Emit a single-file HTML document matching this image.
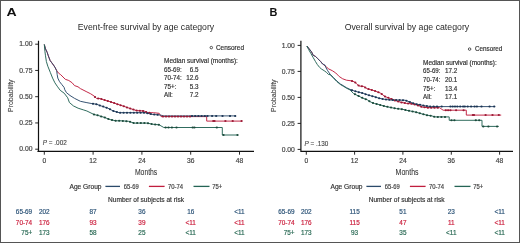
<!DOCTYPE html>
<html><head><meta charset="utf-8"><style>
html,body{margin:0;padding:0;background:#fff;}
svg{display:block;will-change:transform;}
text{font-family:"Liberation Sans",sans-serif;}
</style></head><body>
<svg width="520" height="243" viewBox="0 0 520 243">
<rect x="0" y="0" width="520" height="243" fill="#fff"/>
<text x="6.5" y="16.1" font-size="11.8" font-weight="bold" fill="#111" textLength="10.2" lengthAdjust="spacingAndGlyphs">A</text>
<text x="77.8" y="29.5" font-size="8.9" fill="#2a2a2a" textLength="136.4" lengthAdjust="spacingAndGlyphs">Event-free survival by age category</text>
<path d="M38.5,40.8V151.9M37.4,151.3H254" stroke="#111" stroke-width="1.2" fill="none"/>
<path d="M35.2,44.20H38.5M35.2,70.45H38.5M35.2,96.70H38.5M35.2,122.95H38.5M35.2,149.20H38.5M44.3,151.3V154.70000000000002M93.1,151.3V154.70000000000002M141.9,151.3V154.70000000000002M190.7,151.3V154.70000000000002M239.5,151.3V154.70000000000002" stroke="#111" stroke-width="0.9" fill="none"/>
<text x="32.5" y="46.4" font-size="6.8" fill="#444" stroke="#444" stroke-width="0.18" text-anchor="end" textLength="13.2" lengthAdjust="spacingAndGlyphs">1.00</text>
<text x="32.5" y="72.65" font-size="6.8" fill="#444" stroke="#444" stroke-width="0.18" text-anchor="end" textLength="13.2" lengthAdjust="spacingAndGlyphs">0.75</text>
<text x="32.5" y="98.9" font-size="6.8" fill="#444" stroke="#444" stroke-width="0.18" text-anchor="end" textLength="13.2" lengthAdjust="spacingAndGlyphs">0.50</text>
<text x="32.5" y="125.15" font-size="6.8" fill="#444" stroke="#444" stroke-width="0.18" text-anchor="end" textLength="13.2" lengthAdjust="spacingAndGlyphs">0.25</text>
<text x="32.5" y="151.4" font-size="6.8" fill="#444" stroke="#444" stroke-width="0.18" text-anchor="end" textLength="13.2" lengthAdjust="spacingAndGlyphs">0.00</text>
<text x="44.3" y="163.1" font-size="6.7" fill="#444" stroke="#444" stroke-width="0.18" text-anchor="middle">0</text>
<text x="93.1" y="163.1" font-size="6.7" fill="#444" stroke="#444" stroke-width="0.18" text-anchor="middle">12</text>
<text x="141.9" y="163.1" font-size="6.7" fill="#444" stroke="#444" stroke-width="0.18" text-anchor="middle">24</text>
<text x="190.7" y="163.1" font-size="6.7" fill="#444" stroke="#444" stroke-width="0.18" text-anchor="middle">36</text>
<text x="239.5" y="163.1" font-size="6.7" fill="#444" stroke="#444" stroke-width="0.18" text-anchor="middle">48</text>
<text x="134.9" y="174.9" font-size="8.2" fill="#333" stroke="#333" stroke-width="0.06" textLength="22.4" lengthAdjust="spacingAndGlyphs">Months</text>
<text transform="translate(13.3,95.7) rotate(-90)" x="0" y="0" font-size="7.4" fill="#444" stroke="#444" stroke-width="0.12" text-anchor="middle" textLength="32.6" lengthAdjust="spacingAndGlyphs">Probability</text>
<text x="42.8" y="144.8" font-size="6.6" fill="#444" stroke="#444" stroke-width="0.12" textLength="24.0" lengthAdjust="spacingAndGlyphs"><tspan font-style="italic">P</tspan> = .002</text>
<circle cx="211.3" cy="47.6" r="1.25" fill="none" stroke="#333" stroke-width="0.85"/>
<text x="215.9" y="50.0" font-size="6.4" fill="#333" stroke="#333" stroke-width="0.18" textLength="28.1" lengthAdjust="spacingAndGlyphs">Censored</text>
<text x="164.1" y="62.9" font-size="6.3" fill="#333" stroke="#333" stroke-width="0.18" textLength="73.8" lengthAdjust="spacingAndGlyphs">Median survival (months):</text>
<text x="164.1" y="71.7" font-size="6.3" fill="#333" stroke="#333" stroke-width="0.18" textLength="17.7" lengthAdjust="spacingAndGlyphs">65-69:</text>
<text x="198.4" y="71.7" font-size="6.3" fill="#333" stroke="#333" stroke-width="0.18" text-anchor="end">6.5</text>
<text x="164.1" y="80.1" font-size="6.3" fill="#333" stroke="#333" stroke-width="0.18" textLength="17.7" lengthAdjust="spacingAndGlyphs">70-74:</text>
<text x="198.4" y="80.1" font-size="6.3" fill="#333" stroke="#333" stroke-width="0.18" text-anchor="end">12.6</text>
<text x="164.1" y="88.8" font-size="6.3" fill="#333" stroke="#333" stroke-width="0.18">75+:</text>
<text x="198.4" y="88.8" font-size="6.3" fill="#333" stroke="#333" stroke-width="0.18" text-anchor="end">5.3</text>
<text x="164.1" y="96.9" font-size="6.3" fill="#333" stroke="#333" stroke-width="0.18">All:</text>
<text x="198.4" y="96.9" font-size="6.3" fill="#333" stroke="#333" stroke-width="0.18" text-anchor="end">7.2</text>
<polyline points="44.3,44.5 45.5,48.9 47.2,52.4 48.3,55.8 50.1,60.5 51.8,62.8 53.5,65.1 54.9,67.2 56.7,70.7 58.4,73.0 60.7,74.7 63.0,77.0 65.3,79.3 68.8,80.5 72.2,82.8 74.5,85.6 78.0,86.8 80.4,88.6 86.1,91.5 90.7,93.8 94.2,96.1 96.5,98.4 100.0,98.6 104.2,100.0 110.0,101.7 116.9,104.0 123.8,106.3 130.7,108.7 136.5,110.6 144.1,111.0 147.5,112.7 153.3,112.7 159.2,113.3 161.0,116.6 206.7,116.6 206.7,121.1 242.1,121.1" fill="none" stroke="#c01e3e" stroke-width="0.95" stroke-linejoin="round"/>
<polyline points="44.3,44.5 45.5,48.9 47.2,52.4 48.3,55.8 50.1,60.5 51.8,62.8 53.5,65.1 54.9,67.2 56.7,70.7 57.2,74.7 57.8,78.1 59.5,81.6 61.8,84.5 64.1,87.4 64.8,89.8 66.5,92.7 70.0,95.5 74.6,98.4 80.4,101.3 86.1,102.5 91.9,103.6 96.5,104.2 100.8,105.8 107.7,108.1 113.4,111.0 119.2,112.7 145.2,112.7 152.1,114.4 160.2,115.0 163.7,115.9 235.8,115.9" fill="none" stroke="#2b4a6a" stroke-width="0.95" stroke-linejoin="round"/>
<polyline points="44.3,44.5 44.9,51.2 45.5,55.8 46.4,61.6 47.8,66.2 50.3,72.4 52.6,78.1 54.9,82.8 57.2,86.2 60.2,90.3 64.2,93.2 67.7,97.8 69.4,102.5 73.4,105.9 78.1,108.2 83.8,110.0 86.9,111.0 93.8,114.4 98.5,115.6 104.2,117.3 110.0,119.6 115.8,120.8 121.5,120.8 128.4,121.3 134.2,123.1 147.5,123.1 152.1,124.2 159.1,124.8 163.8,127.5 222.3,127.5 222.3,135.0 238.1,135.0" fill="none" stroke="#256455" stroke-width="0.95" stroke-linejoin="round"/>
<ellipse cx="95" cy="96.9" rx="1.15" ry="1.0" fill="#9a1a35"/><ellipse cx="98.2" cy="98.5" rx="1.15" ry="1.0" fill="#9a1a35"/><ellipse cx="101.4" cy="99.07" rx="1.15" ry="1.0" fill="#9a1a35"/><ellipse cx="104.6" cy="100.12" rx="1.15" ry="1.0" fill="#9a1a35"/><ellipse cx="107.8" cy="101.06" rx="1.15" ry="1.0" fill="#9a1a35"/><ellipse cx="111.0" cy="102.03" rx="1.15" ry="1.0" fill="#9a1a35"/><ellipse cx="114.2" cy="103.1" rx="1.15" ry="1.0" fill="#9a1a35"/><ellipse cx="117.4" cy="104.17" rx="1.15" ry="1.0" fill="#9a1a35"/><ellipse cx="120.6" cy="105.23" rx="1.15" ry="1.0" fill="#9a1a35"/><ellipse cx="123.8" cy="106.3" rx="1.15" ry="1.0" fill="#9a1a35"/><ellipse cx="127.0" cy="107.41" rx="1.15" ry="1.0" fill="#9a1a35"/><ellipse cx="130.2" cy="108.53" rx="1.15" ry="1.0" fill="#9a1a35"/><ellipse cx="133.4" cy="109.58" rx="1.15" ry="1.0" fill="#9a1a35"/><ellipse cx="136.6" cy="110.61" rx="1.15" ry="1.0" fill="#9a1a35"/><ellipse cx="139.8" cy="110.77" rx="1.15" ry="1.0" fill="#9a1a35"/><ellipse cx="143.0" cy="110.94" rx="1.15" ry="1.0" fill="#9a1a35"/><ellipse cx="146.2" cy="112.05" rx="1.15" ry="1.0" fill="#9a1a35"/><ellipse cx="149.4" cy="112.7" rx="1.15" ry="1.0" fill="#9a1a35"/><ellipse cx="163" cy="116.6" rx="1.15" ry="1.0" fill="#9a1a35"/><ellipse cx="166.0" cy="116.6" rx="1.15" ry="1.0" fill="#9a1a35"/><ellipse cx="169.0" cy="116.6" rx="1.15" ry="1.0" fill="#9a1a35"/><ellipse cx="172.0" cy="116.6" rx="1.15" ry="1.0" fill="#9a1a35"/><ellipse cx="175.0" cy="116.6" rx="1.15" ry="1.0" fill="#9a1a35"/><ellipse cx="178.0" cy="116.6" rx="1.15" ry="1.0" fill="#9a1a35"/><ellipse cx="181.0" cy="116.6" rx="1.15" ry="1.0" fill="#9a1a35"/><ellipse cx="184.0" cy="116.6" rx="1.15" ry="1.0" fill="#9a1a35"/><ellipse cx="187.0" cy="116.6" rx="1.15" ry="1.0" fill="#9a1a35"/><ellipse cx="190.0" cy="116.6" rx="1.15" ry="1.0" fill="#9a1a35"/><ellipse cx="213.3" cy="121.1" rx="1.15" ry="1.0" fill="#9a1a35"/><ellipse cx="214.5" cy="121.1" rx="1.15" ry="1.0" fill="#9a1a35"/><ellipse cx="225.4" cy="121.1" rx="1.15" ry="1.0" fill="#9a1a35"/><ellipse cx="232.7" cy="121.1" rx="1.15" ry="1.0" fill="#9a1a35"/><ellipse cx="241.6" cy="121.1" rx="1.15" ry="1.0" fill="#9a1a35"/>
<ellipse cx="93" cy="103.74" rx="1.15" ry="1.0" fill="#1c3554"/><ellipse cx="96.4" cy="104.19" rx="1.15" ry="1.0" fill="#1c3554"/><ellipse cx="99.8" cy="105.43" rx="1.15" ry="1.0" fill="#1c3554"/><ellipse cx="103.2" cy="106.6" rx="1.15" ry="1.0" fill="#1c3554"/><ellipse cx="106.6" cy="107.73" rx="1.15" ry="1.0" fill="#1c3554"/><ellipse cx="110.0" cy="109.27" rx="1.15" ry="1.0" fill="#1c3554"/><ellipse cx="113.4" cy="111.0" rx="1.15" ry="1.0" fill="#1c3554"/><ellipse cx="116.8" cy="112.0" rx="1.15" ry="1.0" fill="#1c3554"/><ellipse cx="120.2" cy="112.7" rx="1.15" ry="1.0" fill="#1c3554"/><ellipse cx="123.6" cy="112.7" rx="1.15" ry="1.0" fill="#1c3554"/><ellipse cx="127.0" cy="112.7" rx="1.15" ry="1.0" fill="#1c3554"/><ellipse cx="130.4" cy="112.7" rx="1.15" ry="1.0" fill="#1c3554"/><ellipse cx="133.8" cy="112.7" rx="1.15" ry="1.0" fill="#1c3554"/><ellipse cx="137.2" cy="112.7" rx="1.15" ry="1.0" fill="#1c3554"/><ellipse cx="140.6" cy="112.7" rx="1.15" ry="1.0" fill="#1c3554"/><ellipse cx="144.0" cy="112.7" rx="1.15" ry="1.0" fill="#1c3554"/><ellipse cx="147.4" cy="113.24" rx="1.15" ry="1.0" fill="#1c3554"/><ellipse cx="150.8" cy="114.08" rx="1.15" ry="1.0" fill="#1c3554"/><ellipse cx="154.2" cy="114.56" rx="1.15" ry="1.0" fill="#1c3554"/><ellipse cx="157.6" cy="114.81" rx="1.15" ry="1.0" fill="#1c3554"/><ellipse cx="192" cy="115.9" rx="1.15" ry="1.0" fill="#1c3554"/><ellipse cx="195.2" cy="115.9" rx="1.15" ry="1.0" fill="#1c3554"/><ellipse cx="198.4" cy="115.9" rx="1.15" ry="1.0" fill="#1c3554"/><ellipse cx="201.6" cy="115.9" rx="1.15" ry="1.0" fill="#1c3554"/><ellipse cx="204.8" cy="115.9" rx="1.15" ry="1.0" fill="#1c3554"/><ellipse cx="207.5" cy="115.9" rx="1.15" ry="1.0" fill="#1c3554"/><ellipse cx="212.1" cy="115.9" rx="1.15" ry="1.0" fill="#1c3554"/><ellipse cx="216.2" cy="115.9" rx="1.15" ry="1.0" fill="#1c3554"/><ellipse cx="222.5" cy="115.9" rx="1.15" ry="1.0" fill="#1c3554"/><ellipse cx="230" cy="115.9" rx="1.15" ry="1.0" fill="#1c3554"/><ellipse cx="235.2" cy="115.9" rx="1.15" ry="1.0" fill="#1c3554"/>
<ellipse cx="94" cy="114.45" rx="1.15" ry="1.0" fill="#1b4a3b"/><ellipse cx="97.6" cy="115.37" rx="1.15" ry="1.0" fill="#1b4a3b"/><ellipse cx="101.2" cy="116.41" rx="1.15" ry="1.0" fill="#1b4a3b"/><ellipse cx="104.8" cy="117.54" rx="1.15" ry="1.0" fill="#1b4a3b"/><ellipse cx="108.4" cy="118.97" rx="1.15" ry="1.0" fill="#1b4a3b"/><ellipse cx="112.0" cy="120.01" rx="1.15" ry="1.0" fill="#1b4a3b"/><ellipse cx="115.6" cy="120.76" rx="1.15" ry="1.0" fill="#1b4a3b"/><ellipse cx="119.2" cy="120.8" rx="1.15" ry="1.0" fill="#1b4a3b"/><ellipse cx="122.8" cy="120.89" rx="1.15" ry="1.0" fill="#1b4a3b"/><ellipse cx="126.4" cy="121.16" rx="1.15" ry="1.0" fill="#1b4a3b"/><ellipse cx="130.0" cy="121.8" rx="1.15" ry="1.0" fill="#1b4a3b"/><ellipse cx="133.6" cy="122.91" rx="1.15" ry="1.0" fill="#1b4a3b"/><ellipse cx="137.2" cy="123.1" rx="1.15" ry="1.0" fill="#1b4a3b"/><ellipse cx="140.8" cy="123.1" rx="1.15" ry="1.0" fill="#1b4a3b"/><ellipse cx="144.4" cy="123.1" rx="1.15" ry="1.0" fill="#1b4a3b"/><ellipse cx="148.0" cy="123.22" rx="1.15" ry="1.0" fill="#1b4a3b"/><ellipse cx="151.6" cy="124.08" rx="1.15" ry="1.0" fill="#1b4a3b"/><ellipse cx="155.2" cy="124.47" rx="1.15" ry="1.0" fill="#1b4a3b"/><ellipse cx="158.8" cy="124.77" rx="1.15" ry="1.0" fill="#1b4a3b"/><ellipse cx="165.6" cy="127.5" rx="1.15" ry="1.0" fill="#1b4a3b"/><ellipse cx="168.5" cy="127.5" rx="1.15" ry="1.0" fill="#1b4a3b"/><ellipse cx="171.9" cy="127.5" rx="1.15" ry="1.0" fill="#1b4a3b"/><ellipse cx="176.5" cy="127.5" rx="1.15" ry="1.0" fill="#1b4a3b"/><ellipse cx="192.7" cy="127.5" rx="1.15" ry="1.0" fill="#1b4a3b"/><ellipse cx="194.4" cy="127.5" rx="1.15" ry="1.0" fill="#1b4a3b"/><ellipse cx="216.8" cy="127.5" rx="1.15" ry="1.0" fill="#1b4a3b"/><ellipse cx="223.5" cy="135.0" rx="1.15" ry="1.0" fill="#1b4a3b"/><ellipse cx="237.5" cy="135.0" rx="1.15" ry="1.0" fill="#1b4a3b"/>
<text x="69.5" y="188.6" font-size="6.6" fill="#333" stroke="#333" stroke-width="0.18" textLength="32.0" lengthAdjust="spacingAndGlyphs">Age Group</text>
<line x1="105.4" y1="186.4" x2="120.0" y2="186.4" stroke="#2b4a6a" stroke-width="1.3"/>
<text x="123.8" y="188.6" font-size="6.3" fill="#444" stroke="#444" stroke-width="0.18" textLength="15.0" lengthAdjust="spacingAndGlyphs">65-69</text>
<line x1="148.9" y1="186.4" x2="164.6" y2="186.4" stroke="#c01e3e" stroke-width="1.3"/>
<text x="168.0" y="188.6" font-size="6.3" fill="#444" stroke="#444" stroke-width="0.18" textLength="15.1" lengthAdjust="spacingAndGlyphs">70-74</text>
<line x1="193.5" y1="186.4" x2="209.5" y2="186.4" stroke="#256455" stroke-width="1.3"/>
<text x="212.3" y="188.6" font-size="6.3" fill="#444" stroke="#444" stroke-width="0.18" textLength="10.0" lengthAdjust="spacingAndGlyphs">75+</text>
<text x="108.1" y="201.6" font-size="6.6" fill="#333" stroke="#333" stroke-width="0.18" textLength="75.9" lengthAdjust="spacingAndGlyphs">Number of subjects at risk</text>
<text x="32.2" y="214.1" font-size="6.4" fill="#2d5478" stroke="#2d5478" stroke-width="0.18" text-anchor="end">65-69</text>
<text x="44.3" y="214.1" font-size="6.4" fill="#2d5478" stroke="#2d5478" stroke-width="0.18" text-anchor="middle">202</text>
<text x="93.1" y="214.1" font-size="6.4" fill="#2d5478" stroke="#2d5478" stroke-width="0.18" text-anchor="middle">87</text>
<text x="141.9" y="214.1" font-size="6.4" fill="#2d5478" stroke="#2d5478" stroke-width="0.18" text-anchor="middle">36</text>
<text x="190.7" y="214.1" font-size="6.4" fill="#2d5478" stroke="#2d5478" stroke-width="0.18" text-anchor="middle">16</text>
<text x="239.5" y="214.1" font-size="6.4" fill="#2d5478" stroke="#2d5478" stroke-width="0.18" text-anchor="middle">&lt;11</text>
<text x="32.2" y="224.7" font-size="6.4" fill="#cc1f3d" stroke="#cc1f3d" stroke-width="0.18" text-anchor="end">70-74</text>
<text x="44.3" y="224.7" font-size="6.4" fill="#cc1f3d" stroke="#cc1f3d" stroke-width="0.18" text-anchor="middle">176</text>
<text x="93.1" y="224.7" font-size="6.4" fill="#cc1f3d" stroke="#cc1f3d" stroke-width="0.18" text-anchor="middle">93</text>
<text x="141.9" y="224.7" font-size="6.4" fill="#cc1f3d" stroke="#cc1f3d" stroke-width="0.18" text-anchor="middle">39</text>
<text x="190.7" y="224.7" font-size="6.4" fill="#cc1f3d" stroke="#cc1f3d" stroke-width="0.18" text-anchor="middle">&lt;11</text>
<text x="239.5" y="224.7" font-size="6.4" fill="#cc1f3d" stroke="#cc1f3d" stroke-width="0.18" text-anchor="middle">&lt;11</text>
<text x="32.2" y="235.2" font-size="6.4" fill="#2a6a55" stroke="#2a6a55" stroke-width="0.18" text-anchor="end">75+</text>
<text x="44.3" y="235.2" font-size="6.4" fill="#2a6a55" stroke="#2a6a55" stroke-width="0.18" text-anchor="middle">173</text>
<text x="93.1" y="235.2" font-size="6.4" fill="#2a6a55" stroke="#2a6a55" stroke-width="0.18" text-anchor="middle">58</text>
<text x="141.9" y="235.2" font-size="6.4" fill="#2a6a55" stroke="#2a6a55" stroke-width="0.18" text-anchor="middle">25</text>
<text x="190.7" y="235.2" font-size="6.4" fill="#2a6a55" stroke="#2a6a55" stroke-width="0.18" text-anchor="middle">&lt;11</text>
<text x="239.5" y="235.2" font-size="6.4" fill="#2a6a55" stroke="#2a6a55" stroke-width="0.18" text-anchor="middle">&lt;11</text>
<text x="269.4" y="16.3" font-size="11.8" font-weight="bold" fill="#111" textLength="7.9" lengthAdjust="spacingAndGlyphs">B</text>
<text x="344.7" y="29.5" font-size="8.9" fill="#2a2a2a" textLength="124.5" lengthAdjust="spacingAndGlyphs">Overall survival by age category</text>
<path d="M300.9,40.8V151.9M300.29999999999995,151.3H513" stroke="#111" stroke-width="1.2" fill="none"/>
<path d="M297.59999999999997,45.40H300.9M297.59999999999997,71.40H300.9M297.59999999999997,97.40H300.9M297.59999999999997,123.40H300.9M297.59999999999997,149.40H300.9M306.3,151.3V154.70000000000002M354.6,151.3V154.70000000000002M402.9,151.3V154.70000000000002M451.3,151.3V154.70000000000002M499.6,151.3V154.70000000000002" stroke="#111" stroke-width="0.9" fill="none"/>
<text x="294.9" y="47.6" font-size="6.8" fill="#444" stroke="#444" stroke-width="0.18" text-anchor="end" textLength="13.2" lengthAdjust="spacingAndGlyphs">1.00</text>
<text x="294.9" y="73.6" font-size="6.8" fill="#444" stroke="#444" stroke-width="0.18" text-anchor="end" textLength="13.2" lengthAdjust="spacingAndGlyphs">0.75</text>
<text x="294.9" y="99.6" font-size="6.8" fill="#444" stroke="#444" stroke-width="0.18" text-anchor="end" textLength="13.2" lengthAdjust="spacingAndGlyphs">0.50</text>
<text x="294.9" y="125.6" font-size="6.8" fill="#444" stroke="#444" stroke-width="0.18" text-anchor="end" textLength="13.2" lengthAdjust="spacingAndGlyphs">0.25</text>
<text x="294.9" y="151.6" font-size="6.8" fill="#444" stroke="#444" stroke-width="0.18" text-anchor="end" textLength="13.2" lengthAdjust="spacingAndGlyphs">0.00</text>
<text x="306.3" y="163.1" font-size="6.7" fill="#444" stroke="#444" stroke-width="0.18" text-anchor="middle">0</text>
<text x="354.6" y="163.1" font-size="6.7" fill="#444" stroke="#444" stroke-width="0.18" text-anchor="middle">12</text>
<text x="402.9" y="163.1" font-size="6.7" fill="#444" stroke="#444" stroke-width="0.18" text-anchor="middle">24</text>
<text x="451.3" y="163.1" font-size="6.7" fill="#444" stroke="#444" stroke-width="0.18" text-anchor="middle">36</text>
<text x="499.6" y="163.1" font-size="6.7" fill="#444" stroke="#444" stroke-width="0.18" text-anchor="middle">48</text>
<text x="395.6" y="175.2" font-size="8.2" fill="#333" stroke="#333" stroke-width="0.06" textLength="23.0" lengthAdjust="spacingAndGlyphs">Months</text>
<text transform="translate(275.9,95.7) rotate(-90)" x="0" y="0" font-size="7.4" fill="#444" stroke="#444" stroke-width="0.12" text-anchor="middle" textLength="32.6" lengthAdjust="spacingAndGlyphs">Probability</text>
<text x="304.4" y="145.6" font-size="6.6" fill="#444" stroke="#444" stroke-width="0.12" textLength="23.9" lengthAdjust="spacingAndGlyphs"><tspan font-style="italic">P</tspan> = .130</text>
<circle cx="469.6" cy="49.1" r="1.25" fill="none" stroke="#333" stroke-width="0.85"/>
<text x="474.9" y="51.3" font-size="6.4" fill="#333" stroke="#333" stroke-width="0.18" textLength="27.4" lengthAdjust="spacingAndGlyphs">Censored</text>
<text x="423.1" y="64.5" font-size="6.3" fill="#333" stroke="#333" stroke-width="0.18" textLength="73.6" lengthAdjust="spacingAndGlyphs">Median survival (months):</text>
<text x="423.1" y="73.3" font-size="6.3" fill="#333" stroke="#333" stroke-width="0.18" textLength="17.3" lengthAdjust="spacingAndGlyphs">65-69:</text>
<text x="444.9" y="73.3" font-size="6.3" fill="#333" stroke="#333" stroke-width="0.18">17.2</text>
<text x="423.1" y="82.0" font-size="6.3" fill="#333" stroke="#333" stroke-width="0.18" textLength="17.3" lengthAdjust="spacingAndGlyphs">70-74:</text>
<text x="444.9" y="82.0" font-size="6.3" fill="#333" stroke="#333" stroke-width="0.18">20.1</text>
<text x="423.1" y="90.6" font-size="6.3" fill="#333" stroke="#333" stroke-width="0.18">75+:</text>
<text x="444.9" y="90.6" font-size="6.3" fill="#333" stroke="#333" stroke-width="0.18">13.4</text>
<text x="423.1" y="99.2" font-size="6.3" fill="#333" stroke="#333" stroke-width="0.18">All:</text>
<text x="444.9" y="99.2" font-size="6.3" fill="#333" stroke="#333" stroke-width="0.18">17.1</text>
<polyline points="306.9,46.0 309.2,48.9 311.5,51.8 313.2,55.3 315.5,56.4 317.8,58.7 320.7,61.6 323.1,64.3 326.0,66.7 328.8,69.0 332.3,70.7 335.8,73.0 339.2,76.5 342.7,78.8 346.5,80.2 351.1,80.8 354.6,81.9 356.9,84.2 359.2,86.0 363.8,86.5 367.3,88.8 371.9,90.0 375.8,91.3 380.4,93.1 385.0,96.5 389.6,98.3 395.4,100.6 401.1,102.3 406.9,103.5 410.8,103.7 416.5,104.8 422.3,107.1 428.1,107.7 439.6,107.7 443.1,110.2 466.3,110.2 466.3,115.1 501.2,115.1" fill="none" stroke="#c01e3e" stroke-width="0.95" stroke-linejoin="round"/>
<polyline points="306.9,46.0 309.2,48.9 311.5,51.8 313.2,55.3 315.5,56.4 317.8,58.7 320.7,61.6 322.5,64.0 324.8,64.9 326.0,67.8 327.7,70.7 330.0,74.1 333.5,77.6 336.9,81.1 340.4,84.0 343.3,85.7 346.5,87.7 350.0,89.4 354.6,91.1 359.2,92.3 363.8,93.5 368.4,95.2 373.1,96.3 379.2,98.3 385.0,99.4 390.8,100.0 405.0,100.2 409.6,101.9 414.2,103.7 420.0,104.8 425.8,106.0 431.5,106.6 495.2,106.6" fill="none" stroke="#2b4a6a" stroke-width="0.95" stroke-linejoin="round"/>
<polyline points="306.9,46.0 308.6,49.5 310.9,53.5 313.2,57.6 315.5,61.6 317.3,64.5 319.6,67.4 321.3,68.9 324.2,70.7 326.5,72.4 328.5,74.5 330.0,74.6 333.5,78.1 336.9,81.6 340.4,84.5 343.3,86.2 346.5,88.2 350.0,89.9 353.5,93.5 358.1,95.8 362.7,98.1 367.3,99.8 370.8,102.1 374.6,103.5 379.2,104.6 385.0,106.3 390.8,107.5 396.5,108.6 402.3,109.2 406.9,110.4 410.8,111.1 416.5,112.3 422.3,114.0 426.9,115.2 431.5,115.8 435.0,116.9 449.2,116.9 449.2,120.3 482.0,120.3 482.0,126.4 498.8,126.4" fill="none" stroke="#256455" stroke-width="0.95" stroke-linejoin="round"/>
<ellipse cx="352" cy="81.08" rx="1.15" ry="1.0" fill="#9a1a35"/><ellipse cx="355.3" cy="82.6" rx="1.15" ry="1.0" fill="#9a1a35"/><ellipse cx="358.6" cy="85.53" rx="1.15" ry="1.0" fill="#9a1a35"/><ellipse cx="361.9" cy="86.29" rx="1.15" ry="1.0" fill="#9a1a35"/><ellipse cx="365.2" cy="87.42" rx="1.15" ry="1.0" fill="#9a1a35"/><ellipse cx="368.5" cy="89.11" rx="1.15" ry="1.0" fill="#9a1a35"/><ellipse cx="371.8" cy="89.97" rx="1.15" ry="1.0" fill="#9a1a35"/><ellipse cx="375.1" cy="91.07" rx="1.15" ry="1.0" fill="#9a1a35"/><ellipse cx="378.4" cy="92.32" rx="1.15" ry="1.0" fill="#9a1a35"/><ellipse cx="381.7" cy="94.06" rx="1.15" ry="1.0" fill="#9a1a35"/><ellipse cx="385.0" cy="96.5" rx="1.15" ry="1.0" fill="#9a1a35"/><ellipse cx="388.3" cy="97.79" rx="1.15" ry="1.0" fill="#9a1a35"/><ellipse cx="391.6" cy="99.09" rx="1.15" ry="1.0" fill="#9a1a35"/><ellipse cx="394.9" cy="100.4" rx="1.15" ry="1.0" fill="#9a1a35"/><ellipse cx="398.2" cy="101.44" rx="1.15" ry="1.0" fill="#9a1a35"/><ellipse cx="401.5" cy="102.38" rx="1.15" ry="1.0" fill="#9a1a35"/><ellipse cx="404.8" cy="103.07" rx="1.15" ry="1.0" fill="#9a1a35"/><ellipse cx="408.1" cy="103.56" rx="1.15" ry="1.0" fill="#9a1a35"/><ellipse cx="411.4" cy="103.82" rx="1.15" ry="1.0" fill="#9a1a35"/><ellipse cx="414.7" cy="104.45" rx="1.15" ry="1.0" fill="#9a1a35"/><ellipse cx="418.0" cy="105.39" rx="1.15" ry="1.0" fill="#9a1a35"/><ellipse cx="421.3" cy="106.7" rx="1.15" ry="1.0" fill="#9a1a35"/><ellipse cx="424.6" cy="107.34" rx="1.15" ry="1.0" fill="#9a1a35"/><ellipse cx="427.9" cy="107.68" rx="1.15" ry="1.0" fill="#9a1a35"/><ellipse cx="431.2" cy="107.7" rx="1.15" ry="1.0" fill="#9a1a35"/><ellipse cx="434.5" cy="107.7" rx="1.15" ry="1.0" fill="#9a1a35"/><ellipse cx="437.8" cy="107.7" rx="1.15" ry="1.0" fill="#9a1a35"/><ellipse cx="445.8" cy="110.2" rx="1.15" ry="1.0" fill="#9a1a35"/><ellipse cx="448.1" cy="110.2" rx="1.15" ry="1.0" fill="#9a1a35"/><ellipse cx="450.4" cy="110.2" rx="1.15" ry="1.0" fill="#9a1a35"/><ellipse cx="456.1" cy="110.2" rx="1.15" ry="1.0" fill="#9a1a35"/><ellipse cx="463.6" cy="110.2" rx="1.15" ry="1.0" fill="#9a1a35"/><ellipse cx="472.9" cy="115.1" rx="1.15" ry="1.0" fill="#9a1a35"/><ellipse cx="474" cy="115.1" rx="1.15" ry="1.0" fill="#9a1a35"/><ellipse cx="485.6" cy="115.1" rx="1.15" ry="1.0" fill="#9a1a35"/><ellipse cx="492.5" cy="115.1" rx="1.15" ry="1.0" fill="#9a1a35"/><ellipse cx="498.8" cy="115.1" rx="1.15" ry="1.0" fill="#9a1a35"/>
<ellipse cx="352" cy="90.14" rx="1.15" ry="1.0" fill="#1c3554"/><ellipse cx="355.4" cy="91.31" rx="1.15" ry="1.0" fill="#1c3554"/><ellipse cx="358.8" cy="92.2" rx="1.15" ry="1.0" fill="#1c3554"/><ellipse cx="362.2" cy="93.08" rx="1.15" ry="1.0" fill="#1c3554"/><ellipse cx="365.6" cy="94.17" rx="1.15" ry="1.0" fill="#1c3554"/><ellipse cx="369.0" cy="95.34" rx="1.15" ry="1.0" fill="#1c3554"/><ellipse cx="372.4" cy="96.14" rx="1.15" ry="1.0" fill="#1c3554"/><ellipse cx="375.8" cy="97.19" rx="1.15" ry="1.0" fill="#1c3554"/><ellipse cx="379.2" cy="98.3" rx="1.15" ry="1.0" fill="#1c3554"/><ellipse cx="382.6" cy="98.94" rx="1.15" ry="1.0" fill="#1c3554"/><ellipse cx="386.0" cy="99.5" rx="1.15" ry="1.0" fill="#1c3554"/><ellipse cx="389.4" cy="99.86" rx="1.15" ry="1.0" fill="#1c3554"/><ellipse cx="392.8" cy="100.03" rx="1.15" ry="1.0" fill="#1c3554"/><ellipse cx="396.2" cy="100.08" rx="1.15" ry="1.0" fill="#1c3554"/><ellipse cx="399.6" cy="100.12" rx="1.15" ry="1.0" fill="#1c3554"/><ellipse cx="403.0" cy="100.17" rx="1.15" ry="1.0" fill="#1c3554"/><ellipse cx="406.4" cy="100.72" rx="1.15" ry="1.0" fill="#1c3554"/><ellipse cx="409.8" cy="101.98" rx="1.15" ry="1.0" fill="#1c3554"/><ellipse cx="413.2" cy="103.31" rx="1.15" ry="1.0" fill="#1c3554"/><ellipse cx="416.6" cy="104.16" rx="1.15" ry="1.0" fill="#1c3554"/><ellipse cx="420.0" cy="104.8" rx="1.15" ry="1.0" fill="#1c3554"/><ellipse cx="423.4" cy="105.5" rx="1.15" ry="1.0" fill="#1c3554"/><ellipse cx="426.8" cy="106.11" rx="1.15" ry="1.0" fill="#1c3554"/><ellipse cx="430.2" cy="106.46" rx="1.15" ry="1.0" fill="#1c3554"/><ellipse cx="433.6" cy="106.6" rx="1.15" ry="1.0" fill="#1c3554"/><ellipse cx="437.0" cy="106.6" rx="1.15" ry="1.0" fill="#1c3554"/><ellipse cx="441.7" cy="106.6" rx="1.15" ry="1.0" fill="#1c3554"/><ellipse cx="450.4" cy="106.6" rx="1.15" ry="1.0" fill="#1c3554"/><ellipse cx="452.7" cy="106.6" rx="1.15" ry="1.0" fill="#1c3554"/><ellipse cx="455" cy="106.6" rx="1.15" ry="1.0" fill="#1c3554"/><ellipse cx="457.3" cy="106.6" rx="1.15" ry="1.0" fill="#1c3554"/><ellipse cx="460.2" cy="106.6" rx="1.15" ry="1.0" fill="#1c3554"/><ellipse cx="463.1" cy="106.6" rx="1.15" ry="1.0" fill="#1c3554"/><ellipse cx="464.8" cy="106.6" rx="1.15" ry="1.0" fill="#1c3554"/><ellipse cx="467.7" cy="106.6" rx="1.15" ry="1.0" fill="#1c3554"/><ellipse cx="471.1" cy="106.6" rx="1.15" ry="1.0" fill="#1c3554"/><ellipse cx="474.6" cy="106.6" rx="1.15" ry="1.0" fill="#1c3554"/><ellipse cx="476.9" cy="106.6" rx="1.15" ry="1.0" fill="#1c3554"/><ellipse cx="481.5" cy="106.6" rx="1.15" ry="1.0" fill="#1c3554"/><ellipse cx="489.6" cy="106.6" rx="1.15" ry="1.0" fill="#1c3554"/><ellipse cx="494.2" cy="106.6" rx="1.15" ry="1.0" fill="#1c3554"/>
<ellipse cx="355" cy="94.25" rx="1.15" ry="1.0" fill="#1b4a3b"/><ellipse cx="358.6" cy="96.05" rx="1.15" ry="1.0" fill="#1b4a3b"/><ellipse cx="362.2" cy="97.85" rx="1.15" ry="1.0" fill="#1b4a3b"/><ellipse cx="365.8" cy="99.25" rx="1.15" ry="1.0" fill="#1b4a3b"/><ellipse cx="369.4" cy="101.18" rx="1.15" ry="1.0" fill="#1b4a3b"/><ellipse cx="373.0" cy="102.91" rx="1.15" ry="1.0" fill="#1b4a3b"/><ellipse cx="376.6" cy="103.98" rx="1.15" ry="1.0" fill="#1b4a3b"/><ellipse cx="380.2" cy="104.89" rx="1.15" ry="1.0" fill="#1b4a3b"/><ellipse cx="383.8" cy="105.95" rx="1.15" ry="1.0" fill="#1b4a3b"/><ellipse cx="387.4" cy="106.8" rx="1.15" ry="1.0" fill="#1b4a3b"/><ellipse cx="391.0" cy="107.54" rx="1.15" ry="1.0" fill="#1b4a3b"/><ellipse cx="394.6" cy="108.23" rx="1.15" ry="1.0" fill="#1b4a3b"/><ellipse cx="398.2" cy="108.78" rx="1.15" ry="1.0" fill="#1b4a3b"/><ellipse cx="401.8" cy="109.15" rx="1.15" ry="1.0" fill="#1b4a3b"/><ellipse cx="405.4" cy="110.01" rx="1.15" ry="1.0" fill="#1b4a3b"/><ellipse cx="409.0" cy="110.78" rx="1.15" ry="1.0" fill="#1b4a3b"/><ellipse cx="412.6" cy="111.48" rx="1.15" ry="1.0" fill="#1b4a3b"/><ellipse cx="416.2" cy="112.24" rx="1.15" ry="1.0" fill="#1b4a3b"/><ellipse cx="419.8" cy="113.27" rx="1.15" ry="1.0" fill="#1b4a3b"/><ellipse cx="423.4" cy="114.29" rx="1.15" ry="1.0" fill="#1b4a3b"/><ellipse cx="427.0" cy="115.21" rx="1.15" ry="1.0" fill="#1b4a3b"/><ellipse cx="430.6" cy="115.68" rx="1.15" ry="1.0" fill="#1b4a3b"/><ellipse cx="434.2" cy="116.65" rx="1.15" ry="1.0" fill="#1b4a3b"/><ellipse cx="437.8" cy="116.9" rx="1.15" ry="1.0" fill="#1b4a3b"/><ellipse cx="441.4" cy="116.9" rx="1.15" ry="1.0" fill="#1b4a3b"/><ellipse cx="445.0" cy="116.9" rx="1.15" ry="1.0" fill="#1b4a3b"/><ellipse cx="451.5" cy="120.3" rx="1.15" ry="1.0" fill="#1b4a3b"/><ellipse cx="454.4" cy="120.3" rx="1.15" ry="1.0" fill="#1b4a3b"/><ellipse cx="475.8" cy="120.3" rx="1.15" ry="1.0" fill="#1b4a3b"/><ellipse cx="479.2" cy="120.3" rx="1.15" ry="1.0" fill="#1b4a3b"/><ellipse cx="483.3" cy="126.4" rx="1.15" ry="1.0" fill="#1b4a3b"/><ellipse cx="488.4" cy="126.4" rx="1.15" ry="1.0" fill="#1b4a3b"/><ellipse cx="497.1" cy="126.4" rx="1.15" ry="1.0" fill="#1b4a3b"/>
<text x="330.5" y="188.6" font-size="6.6" fill="#333" stroke="#333" stroke-width="0.18" textLength="32.0" lengthAdjust="spacingAndGlyphs">Age Group</text>
<line x1="366.4" y1="186.4" x2="381.0" y2="186.4" stroke="#2b4a6a" stroke-width="1.3"/>
<text x="384.8" y="188.6" font-size="6.3" fill="#444" stroke="#444" stroke-width="0.18" textLength="15.0" lengthAdjust="spacingAndGlyphs">65-69</text>
<line x1="409.9" y1="186.4" x2="425.6" y2="186.4" stroke="#c01e3e" stroke-width="1.3"/>
<text x="429.0" y="188.6" font-size="6.3" fill="#444" stroke="#444" stroke-width="0.18" textLength="15.1" lengthAdjust="spacingAndGlyphs">70-74</text>
<line x1="454.5" y1="186.4" x2="470.5" y2="186.4" stroke="#256455" stroke-width="1.3"/>
<text x="473.3" y="188.6" font-size="6.3" fill="#444" stroke="#444" stroke-width="0.18" textLength="10.0" lengthAdjust="spacingAndGlyphs">75+</text>
<text x="368.7" y="201.6" font-size="6.6" fill="#333" stroke="#333" stroke-width="0.18" textLength="75.9" lengthAdjust="spacingAndGlyphs">Number of subjects at risk</text>
<text x="294.5" y="214.1" font-size="6.4" fill="#2d5478" stroke="#2d5478" stroke-width="0.18" text-anchor="end">65-69</text>
<text x="306.3" y="214.1" font-size="6.4" fill="#2d5478" stroke="#2d5478" stroke-width="0.18" text-anchor="middle">202</text>
<text x="354.6" y="214.1" font-size="6.4" fill="#2d5478" stroke="#2d5478" stroke-width="0.18" text-anchor="middle">115</text>
<text x="402.9" y="214.1" font-size="6.4" fill="#2d5478" stroke="#2d5478" stroke-width="0.18" text-anchor="middle">51</text>
<text x="451.3" y="214.1" font-size="6.4" fill="#2d5478" stroke="#2d5478" stroke-width="0.18" text-anchor="middle">23</text>
<text x="499.6" y="214.1" font-size="6.4" fill="#2d5478" stroke="#2d5478" stroke-width="0.18" text-anchor="middle">&lt;11</text>
<text x="294.5" y="224.7" font-size="6.4" fill="#cc1f3d" stroke="#cc1f3d" stroke-width="0.18" text-anchor="end">70-74</text>
<text x="306.3" y="224.7" font-size="6.4" fill="#cc1f3d" stroke="#cc1f3d" stroke-width="0.18" text-anchor="middle">176</text>
<text x="354.6" y="224.7" font-size="6.4" fill="#cc1f3d" stroke="#cc1f3d" stroke-width="0.18" text-anchor="middle">115</text>
<text x="402.9" y="224.7" font-size="6.4" fill="#cc1f3d" stroke="#cc1f3d" stroke-width="0.18" text-anchor="middle">47</text>
<text x="451.3" y="224.7" font-size="6.4" fill="#cc1f3d" stroke="#cc1f3d" stroke-width="0.18" text-anchor="middle">11</text>
<text x="499.6" y="224.7" font-size="6.4" fill="#cc1f3d" stroke="#cc1f3d" stroke-width="0.18" text-anchor="middle">&lt;11</text>
<text x="294.5" y="235.2" font-size="6.4" fill="#2a6a55" stroke="#2a6a55" stroke-width="0.18" text-anchor="end">75+</text>
<text x="306.3" y="235.2" font-size="6.4" fill="#2a6a55" stroke="#2a6a55" stroke-width="0.18" text-anchor="middle">173</text>
<text x="354.6" y="235.2" font-size="6.4" fill="#2a6a55" stroke="#2a6a55" stroke-width="0.18" text-anchor="middle">93</text>
<text x="402.9" y="235.2" font-size="6.4" fill="#2a6a55" stroke="#2a6a55" stroke-width="0.18" text-anchor="middle">35</text>
<text x="451.3" y="235.2" font-size="6.4" fill="#2a6a55" stroke="#2a6a55" stroke-width="0.18" text-anchor="middle">&lt;11</text>
<text x="499.6" y="235.2" font-size="6.4" fill="#2a6a55" stroke="#2a6a55" stroke-width="0.18" text-anchor="middle">&lt;11</text>
<rect x="0.5" y="0.5" width="519" height="242" stroke="#555" stroke-width="1" fill="none"/>
</svg>
</body></html>
